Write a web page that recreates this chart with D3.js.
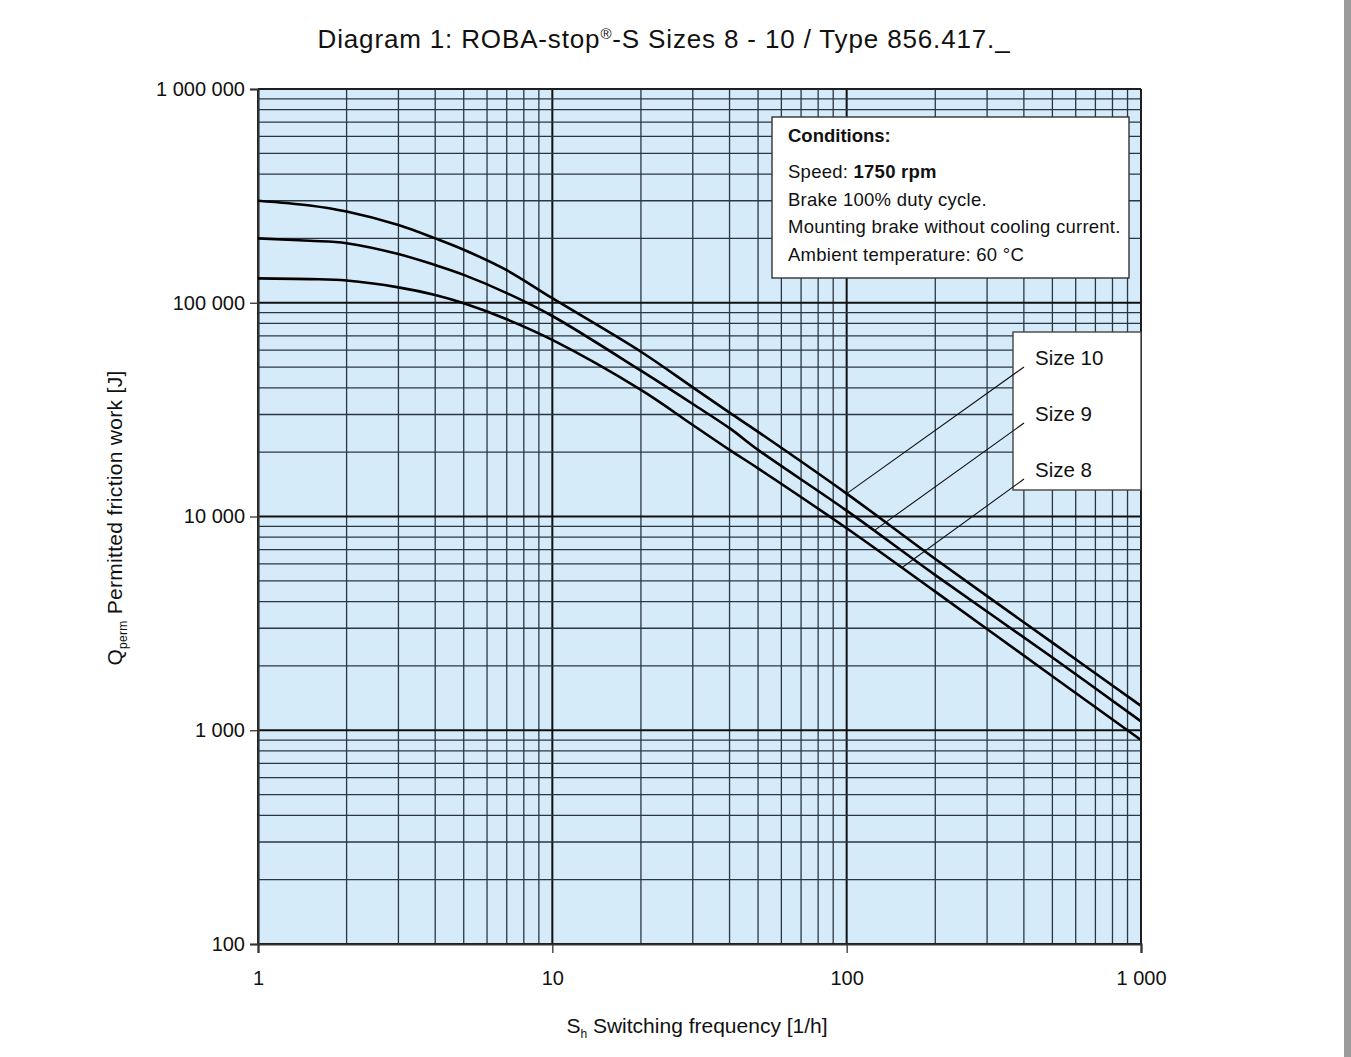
<!DOCTYPE html>
<html>
<head>
<meta charset="utf-8">
<script src="https://cdn.jsdelivr.net/npm/d3@7"></script>
<style>
  html, body { margin: 0; padding: 0; background: #fff; }
  svg { display: block; font-family: "Liberation Sans", Arial, Helvetica, sans-serif; }
</style>
</head>
<body>
<svg id="chart" width="1351" height="1057"></svg>
<script>
// ---- data ----
const frequencies = [1, 1.5, 2, 3, 4, 5, 7, 10, 20, 30, 40, 50, 100, 200, 500, 1000];
const size10 = [300000, 285000, 267000, 231000, 200000, 177000, 142000, 105000, 59000, 40200, 30600, 24900, 12800, 6330, 2570, 1300];
const size9  = [200000, 195000, 190000, 169000, 150000, 135000, 111000, 86700, 48100, 33600, 25900, 20500, 10650, 5320, 2190, 1100];
const size8  = [130000, 129000, 127000, 118000, 108700, 99400, 83700, 67000, 39100, 26800, 20500, 16800, 8810, 4450, 1790, 900];
const seriesNames = ["Size 10", "Size 9", "Size 8"];
const leaderAnchorFreq = [100, 124, 154];
const xTickValues = [1, 10, 100, 1000];
const yTickValues = [100, 1000, 10000, 100000, 1000000];
const titleParts = ["Diagram 1: ROBA-stop", "®", "-S Sizes 8 - 10 / Type 856.417._"];
const conditionsTitle = "Conditions:";
const conditionsLines = [
  ["Speed: ", "1750 rpm"],
  ["Brake 100% duty cycle.", ""],
  ["Mounting brake without cooling current.", ""],
  ["Ambient temperature: 60 °C", ""]
];

// ---- layout ----
const svg = d3.select("#chart");
const pLeft = 258, pRight = 1141, pTop = 89, pBottom = 944;
const x = d3.scaleLog().domain([1, 1000]).range([pLeft, pRight]);
const y = d3.scaleLog().domain([100, 1000000]).range([pBottom, pTop]);
const fmt = v => d3.format(",")(v).replace(/,/g, " ");

svg.append("rect").attr("width", 1351).attr("height", 1057).attr("fill", "#fff");
// page edge shadow
svg.append("rect").attr("x", 1344).attr("y", 0).attr("width", 7).attr("height", 1057).attr("fill", "#9b9b9b");

// plot background
svg.append("rect").attr("x", pLeft).attr("y", pTop).attr("width", pRight - pLeft).attr("height", pBottom - pTop)
  .attr("fill", "#d5ebfa");

// grid
const xGrid = [];
for (let d = 1; d < 1000; d *= 10) for (let k = 1; k < 10; k++) xGrid.push(d * k);
xGrid.push(1000);
const yGrid = [];
for (let d = 100; d < 1000000; d *= 10) for (let k = 1; k < 10; k++) yGrid.push(d * k);
yGrid.push(1000000);
const isMajor = v => Math.abs(Math.log10(v) - Math.round(Math.log10(v))) < 1e-9;

const g = svg.append("g");
g.selectAll(".vg").data(xGrid).join("line")
  .attr("x1", d => x(d)).attr("x2", d => x(d)).attr("y1", pTop).attr("y2", pBottom)
  .attr("stroke", d => isMajor(d) ? "#111" : "#2a3742")
  .attr("stroke-width", d => isMajor(d) ? 2 : 1.3);
g.selectAll(".hg").data(yGrid).join("line")
  .attr("y1", d => y(d)).attr("y2", d => y(d)).attr("x1", pLeft).attr("x2", pRight)
  .attr("stroke", d => isMajor(d) ? "#111" : "#2a3742")
  .attr("stroke-width", d => isMajor(d) ? 2 : 1.3);

// axes
const xAxis = svg.append("g").attr("transform", `translate(0,${pBottom})`)
  .call(d3.axisBottom(x).tickValues(xTickValues).tickFormat(fmt).tickSize(9).tickPadding(18));
const yAxis = svg.append("g").attr("transform", `translate(${pLeft},0)`)
  .call(d3.axisLeft(y).tickValues(yTickValues).tickFormat(fmt).tickSize(8).tickPadding(5));
[xAxis, yAxis].forEach(a => {
  a.select(".domain").attr("stroke", "#333").attr("stroke-width", 2.2);
  a.selectAll(".tick line").attr("stroke", "#333").attr("stroke-width", 1.3);
  a.selectAll(".tick text").attr("font-size", 20).attr("fill", "#111")
    .attr("font-family", "'Liberation Sans', Arial, sans-serif");
});

// curves
const allSeries = [size10, size9, size8];
const line = d3.line().x(d => x(d[0])).y(d => y(d[1])).curve(d3.curveCatmullRom.alpha(0.5));
allSeries.forEach(vals => {
  svg.append("path").datum(frequencies.map((f, i) => [f, vals[i]]))
    .attr("d", line).attr("fill", "none").attr("stroke", "#000").attr("stroke-width", 2.6)
    .attr("stroke-linejoin", "round");
});

// plot border right/top
svg.append("line").attr("x1", pRight).attr("x2", pRight).attr("y1", pTop).attr("y2", pBottom).attr("stroke", "#222").attr("stroke-width", 1.6);
svg.append("line").attr("x1", pLeft).attr("x2", pRight).attr("y1", pTop).attr("y2", pTop).attr("stroke", "#222").attr("stroke-width", 1.6);

// interpolate value on a series at frequency f (log-log)
function valueAt(vals, f) {
  for (let i = 0; i < frequencies.length - 1; i++) {
    if (f >= frequencies[i] && f <= frequencies[i + 1]) {
      const t = (Math.log(f) - Math.log(frequencies[i])) / (Math.log(frequencies[i + 1]) - Math.log(frequencies[i]));
      return Math.exp(Math.log(vals[i]) + t * (Math.log(vals[i + 1]) - Math.log(vals[i])));
    }
  }
  return vals[vals.length - 1];
}

// size labels box
const lb = { x: 1013, y: 332, w: pRight - 1013, h: 158 };
svg.append("rect").attr("x", lb.x).attr("y", lb.y).attr("width", lb.w).attr("height", lb.h)
  .attr("fill", "#fff").attr("stroke", "#444").attr("stroke-width", 1.4);
seriesNames.forEach((name, i) => {
  const by = lb.y + 33 + i * 56;
  svg.append("text").attr("x", lb.x + 22).attr("y", by).attr("font-size", 20.5).attr("fill", "#111").text(name);
  const f = leaderAnchorFreq[i];
  svg.append("line")
    .attr("x1", x(f)).attr("y1", y(valueAt(allSeries[i], f)))
    .attr("x2", lb.x + 11).attr("y2", by + 2)
    .attr("stroke", "#111").attr("stroke-width", 1.1);
});

// conditions box
const cb = { x: 772, y: 117, w: 357, h: 161 };
svg.append("rect").attr("x", cb.x).attr("y", cb.y).attr("width", cb.w).attr("height", cb.h)
  .attr("fill", "#fff").attr("stroke", "#333").attr("stroke-width", 1.4);
svg.append("text").attr("x", cb.x + 16).attr("y", cb.y + 25).attr("font-size", 18.5).attr("font-weight", "bold")
  .attr("fill", "#111").text(conditionsTitle);
conditionsLines.forEach((ln, i) => {
  const t = svg.append("text").attr("x", cb.x + 16).attr("y", cb.y + 61 + i * 27.5)
    .attr("font-size", 18.5).attr("letter-spacing", 0.25).attr("fill", "#111");
  t.append("tspan").text(ln[0]);
  if (ln[1]) t.append("tspan").attr("font-weight", "bold").text(ln[1]);
});

// title
const tt = svg.append("text").attr("x", 664).attr("y", 48).attr("text-anchor", "middle")
  .attr("font-size", 26).attr("letter-spacing", 0.85).attr("fill", "#111");
tt.append("tspan").text(titleParts[0]);
tt.append("tspan").attr("font-size", 15).attr("dy", -9).text(titleParts[1]);
tt.append("tspan").attr("dy", 9).text(titleParts[2]);

// x axis title
const xt = svg.append("text").attr("x", 697).attr("y", 1033).attr("text-anchor", "middle")
  .attr("font-size", 21).attr("fill", "#111");
xt.append("tspan").text("S");
xt.append("tspan").attr("font-size", 12).attr("dy", 5).text("h");
xt.append("tspan").attr("dy", -5).text(" Switching frequency [1/h]");

// y axis title
const yt = svg.append("text").attr("transform", "translate(122,518) rotate(-90)").attr("text-anchor", "middle")
  .attr("font-size", 21).attr("letter-spacing", 0.3).attr("fill", "#111");
yt.append("tspan").text("Q");
yt.append("tspan").attr("font-size", 12).attr("dy", 5).text("perm");
yt.append("tspan").attr("dy", -5).text(" Permitted friction work [J]");
</script>
</body>
</html>
